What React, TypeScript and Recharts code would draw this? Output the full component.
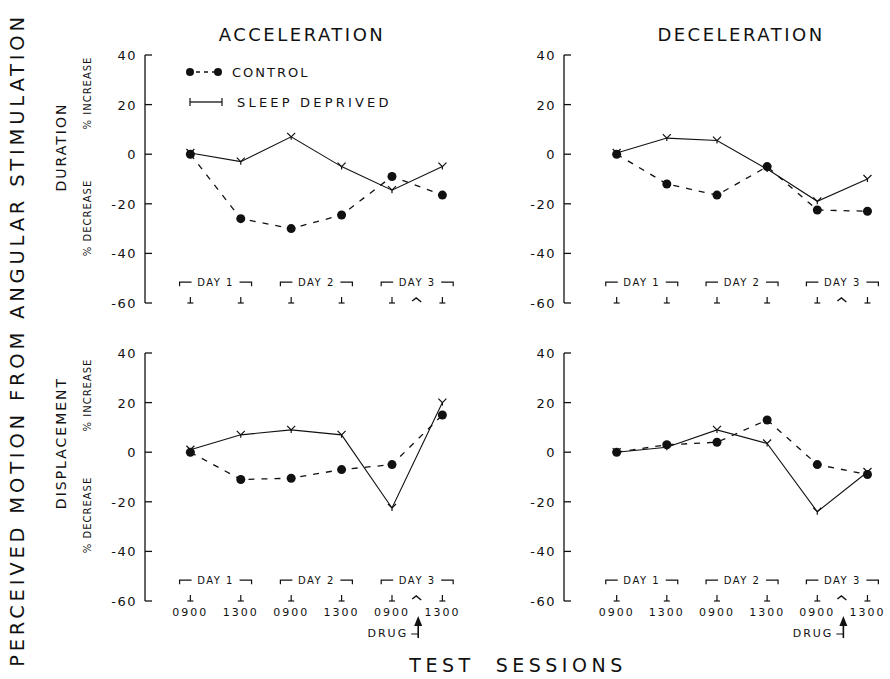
import React from 'react';
import { LineChart, Line, XAxis, YAxis, ReferenceDot } from 'recharts';

// ---------- data ----------
const sessions = [0, 1, 2, 3, 4, 5];
const sessionLabels = ['0900', '1300', '0900', '1300', '0900', '1300'];
const yTicks = [40, 20, 0, -20, -40, -60];
const dayLabels = ['DAY 1', 'DAY 2', 'DAY 3'];
const dayCenters = [0.5, 2.5, 4.5];

const accelDurationControl = [0, -26, -30, -24.5, -9, -16.5];
const accelDurationSleep = [0.5, -3, 7, -5, -14.5, -5];
const decelDurationControl = [0, -12, -16.5, -5, -22.5, -23];
const decelDurationSleep = [0.5, 6.5, 5.5, -6, -19, -10];
const accelDisplControl = [0, -11, -10.5, -7, -5, 15];
const accelDisplSleep = [1, 7, 9, 7, -22.5, 20];
const decelDisplControl = [0, 3, 4, 13, -5, -9];
const decelDisplSleep = [0, 2, 9, 3.5, -24, -8];

const INK = '#111';
const FONT = '"DejaVu Sans", "Liberation Sans", sans-serif';

const buildRows = (ctrl: number[], sleep: number[]) =>
  sessions.map((s, i) => ({ x: s, control: ctrl[i], sleep: sleep[i] }));

// ---------- custom pieces ----------
const YTick = (props: any) => {
  const { x, y, payload } = props;
  const ax = x + 8;
  return (
    <g>
      <text x={x} y={y} dy={5} textAnchor="end" fontSize={13} fill={INK} fontFamily={FONT} letterSpacing={1.5}>
        {payload.value}
      </text>
      <line x1={ax} x2={ax + 7} y1={y} y2={y} stroke={INK} strokeWidth={1.3} />
    </g>
  );
};

const makeXTick = (showLabel: boolean) => (props: any) => {
  const { x, y, payload } = props;
  return (
    <g>
      <line x1={x} x2={x} y1={y - 6} y2={y} stroke={INK} strokeWidth={1.2} />
      <line x1={x - 3} x2={x + 3} y1={y} y2={y} stroke={INK} strokeWidth={1.2} />
      {showLabel && (
        <text x={x} y={y + 15} textAnchor="middle" fontSize={11} fill={INK} fontFamily={FONT} letterSpacing={2}>
          {sessionLabels[payload.value]}
        </text>
      )}
    </g>
  );
};

const ControlDot = (props: any) => {
  const { cx, cy } = props;
  if (cx == null || cy == null) return <g />;
  return <circle cx={cx} cy={cy} r={4.5} fill={INK} stroke="none" />;
};

const SleepDot = (props: any) => {
  const { cx, cy } = props;
  if (cx == null || cy == null) return <g />;
  return (
    <path
      d={`M${cx - 4},${cy - 4} L${cx},${cy} L${cx + 4},${cy - 4} M${cx},${cy} L${cx},${cy + 3}`}
      stroke={INK}
      strokeWidth={1.2}
      fill="none"
    />
  );
};

const makeDayShape = (label: string) => (props: any) => {
  const { cx, cy } = props;
  const half = 36;
  const inner = 24;
  return (
    <g>
      <path
        d={`M${cx - half},${cy + 3} L${cx - half},${cy - 1} L${cx - inner},${cy - 1} M${cx + inner},${cy - 1} L${cx + half},${cy - 1} L${cx + half},${cy + 3}`}
        stroke={INK}
        strokeWidth={1.2}
        fill="none"
      />
      <text x={cx} y={cy + 3} textAnchor="middle" fontSize={10} fill={INK} fontFamily={FONT} letterSpacing={1.5}>
        {label}
      </text>
    </g>
  );
};

const makeDrugShape = (showArrow: boolean) => (props: any) => {
  const { cx, cy } = props;
  return (
    <g>
      <path d={`M${cx - 5},${cy - 2} L${cx - 1},${cy - 5} L${cx + 4},${cy - 1}`} stroke={INK} strokeWidth={1.4} fill="none" />
      {showArrow && (
        <g>
          <line x1={cx + 1} x2={cx + 1} y1={cy + 22} y2={cy + 37} stroke={INK} strokeWidth={1.6} />
          <path d={`M${cx - 3},${cy + 25} L${cx + 1},${cy + 15} L${cx + 5},${cy + 25} Z`} fill={INK} />
          <line x1={cx - 6} x2={cx + 1} y1={cy + 33} y2={cy + 33} stroke={INK} strokeWidth={1} />
          <text x={cx - 9} y={cy + 36} textAnchor="end" fontSize={11} fill={INK} fontFamily={FONT} letterSpacing={2}>
            DRUG
          </text>
        </g>
      )}
    </g>
  );
};

// ---------- panel ----------
type PanelProps = {
  left: number;
  top: number;
  plotWidth: number;
  xDomain: [number, number];
  control: number[];
  sleep: number[];
  bottom: boolean;
};

const Y_AXIS_W = 45;
const PLOT_H = 248;
const X_AXIS_H = 45;
const M_TOP = 12;
const M_RIGHT = 5;

const Panel = ({ left, top, plotWidth, xDomain, control, sleep, bottom }: PanelProps) => {
  const rows = buildRows(control, sleep);
  return (
    <div style={{ position: 'absolute', left, top }}>
      <LineChart
        width={Y_AXIS_W + plotWidth + M_RIGHT}
        height={M_TOP + PLOT_H + X_AXIS_H}
        data={rows}
        margin={{ top: M_TOP, right: M_RIGHT, bottom: 0, left: 0 }}
      >
        <XAxis
          dataKey="x"
          type="number"
          domain={xDomain}
          ticks={sessions}
          allowDataOverflow
          axisLine={false}
          tickLine={false}
          tickSize={0}
          tickMargin={0}
          height={X_AXIS_H}
          tick={makeXTick(bottom)}
          interval={0}
        />
        <YAxis
          type="number"
          domain={[-60, 40]}
          ticks={yTicks}
          width={Y_AXIS_W}
          axisLine={{ stroke: INK, strokeWidth: 1.3 }}
          tickLine={false}
          tickSize={0}
          tickMargin={8}
          tick={<YTick />}
          interval={0}
        />
        {dayLabels.map((d, i) => (
          <ReferenceDot
            key={d}
            x={dayCenters[i]}
            y={-52}
            r={0}
            ifOverflow="visible"
            shape={makeDayShape(d)}
          />
        ))}
        <ReferenceDot x={4.5} y={-60} r={0} ifOverflow="visible" shape={makeDrugShape(bottom)} />
        <Line
          dataKey="control"
          stroke={INK}
          strokeWidth={1.3}
          strokeDasharray="6 7"
          dot={<ControlDot />}
          activeDot={false}
          isAnimationActive={false}
        />
        <Line
          dataKey="sleep"
          stroke={INK}
          strokeWidth={1.1}
          dot={<SleepDot />}
          activeDot={false}
          isAnimationActive={false}
        />
      </LineChart>
    </div>
  );
};

const vText = (text: string, cx: number, cy: number, size: number, spacing: number) => (
  <div
    style={{
      position: 'absolute',
      left: cx,
      top: cy,
      transform: 'translate(-50%, -50%) rotate(-90deg)',
      whiteSpace: 'pre',
      fontFamily: FONT,
      fontSize: size,
      letterSpacing: spacing,
      color: INK,
      lineHeight: 1,
    }}
  >
    {text}
  </div>
);

const hText = (text: string, cx: number, cy: number, size: number, spacing: number) => (
  <div
    style={{
      position: 'absolute',
      left: cx,
      top: cy,
      transform: 'translate(-50%, -50%)',
      whiteSpace: 'pre',
      fontFamily: FONT,
      fontSize: size,
      letterSpacing: spacing,
      color: INK,
      lineHeight: 1,
    }}
  >
    {text}
  </div>
);

export default function App() {
  const leftPlotW = 310;
  const rightPlotW = 316;
  return (
    <div style={{ position: 'absolute', left: 0, top: 0, width: 890, height: 679, background: '#fff', overflow: 'hidden' }}>
      <Panel left={145 - Y_AXIS_W} top={55 - M_TOP} plotWidth={leftPlotW} xDomain={[-0.9, 5.25]} control={accelDurationControl} sleep={accelDurationSleep} bottom={false} />
      <Panel left={564 - Y_AXIS_W} top={55 - M_TOP} plotWidth={rightPlotW} xDomain={[-1.05, 5.25]} control={decelDurationControl} sleep={decelDurationSleep} bottom={false} />
      <Panel left={145 - Y_AXIS_W} top={353 - M_TOP} plotWidth={leftPlotW} xDomain={[-0.9, 5.25]} control={accelDisplControl} sleep={accelDisplSleep} bottom={true} />
      <Panel left={564 - Y_AXIS_W} top={353 - M_TOP} plotWidth={rightPlotW} xDomain={[-1.05, 5.25]} control={decelDisplControl} sleep={decelDisplSleep} bottom={true} />

      {hText('ACCELERATION', 302, 35, 18, 2.5)}
      {hText('DECELERATION', 741, 35, 18, 2.5)}
      {hText('TEST  SESSIONS', 518, 665, 19, 4.5)}

      {vText('PERCEIVED MOTION FROM ANGULAR STIMULATION', 18, 340, 19.5, 3.8)}
      {vText('DURATION', 61, 147, 14, 2)}
      {vText('% INCREASE', 88, 93, 10, 1)}
      {vText('% DECREASE', 88, 218, 10, 1)}
      {vText('DISPLACEMENT', 61, 443, 14, 2)}
      {vText('% INCREASE', 88, 395, 10, 1)}
      {vText('% DECREASE', 88, 515, 10, 1)}

      {/* legend */}
      <div style={{ position: 'absolute', left: 182, top: 60 }}>
        <svg width={260} height={55}>
          <circle cx={8} cy={12} r={4} fill={INK} />
          <line x1={14} x2={32} y1={12} y2={12} stroke={INK} strokeWidth={1.3} strokeDasharray="4 4" />
          <circle cx={36} cy={12} r={4} fill={INK} />
          <text x={50} y={17} fontSize={13} fill={INK} fontFamily={FONT} letterSpacing={2}>CONTROL</text>
          <line x1={8} x2={40} y1={42} y2={42} stroke={INK} strokeWidth={1.3} />
          <line x1={8} x2={8} y1={38} y2={46} stroke={INK} strokeWidth={1.2} />
          <line x1={40} x2={40} y1={38} y2={46} stroke={INK} strokeWidth={1.2} />
          <text x={55} y={47} fontSize={13} fill={INK} fontFamily={FONT} letterSpacing={3.2}>SLEEP DEPRIVED</text>
        </svg>
      </div>
    </div>
  );
}
